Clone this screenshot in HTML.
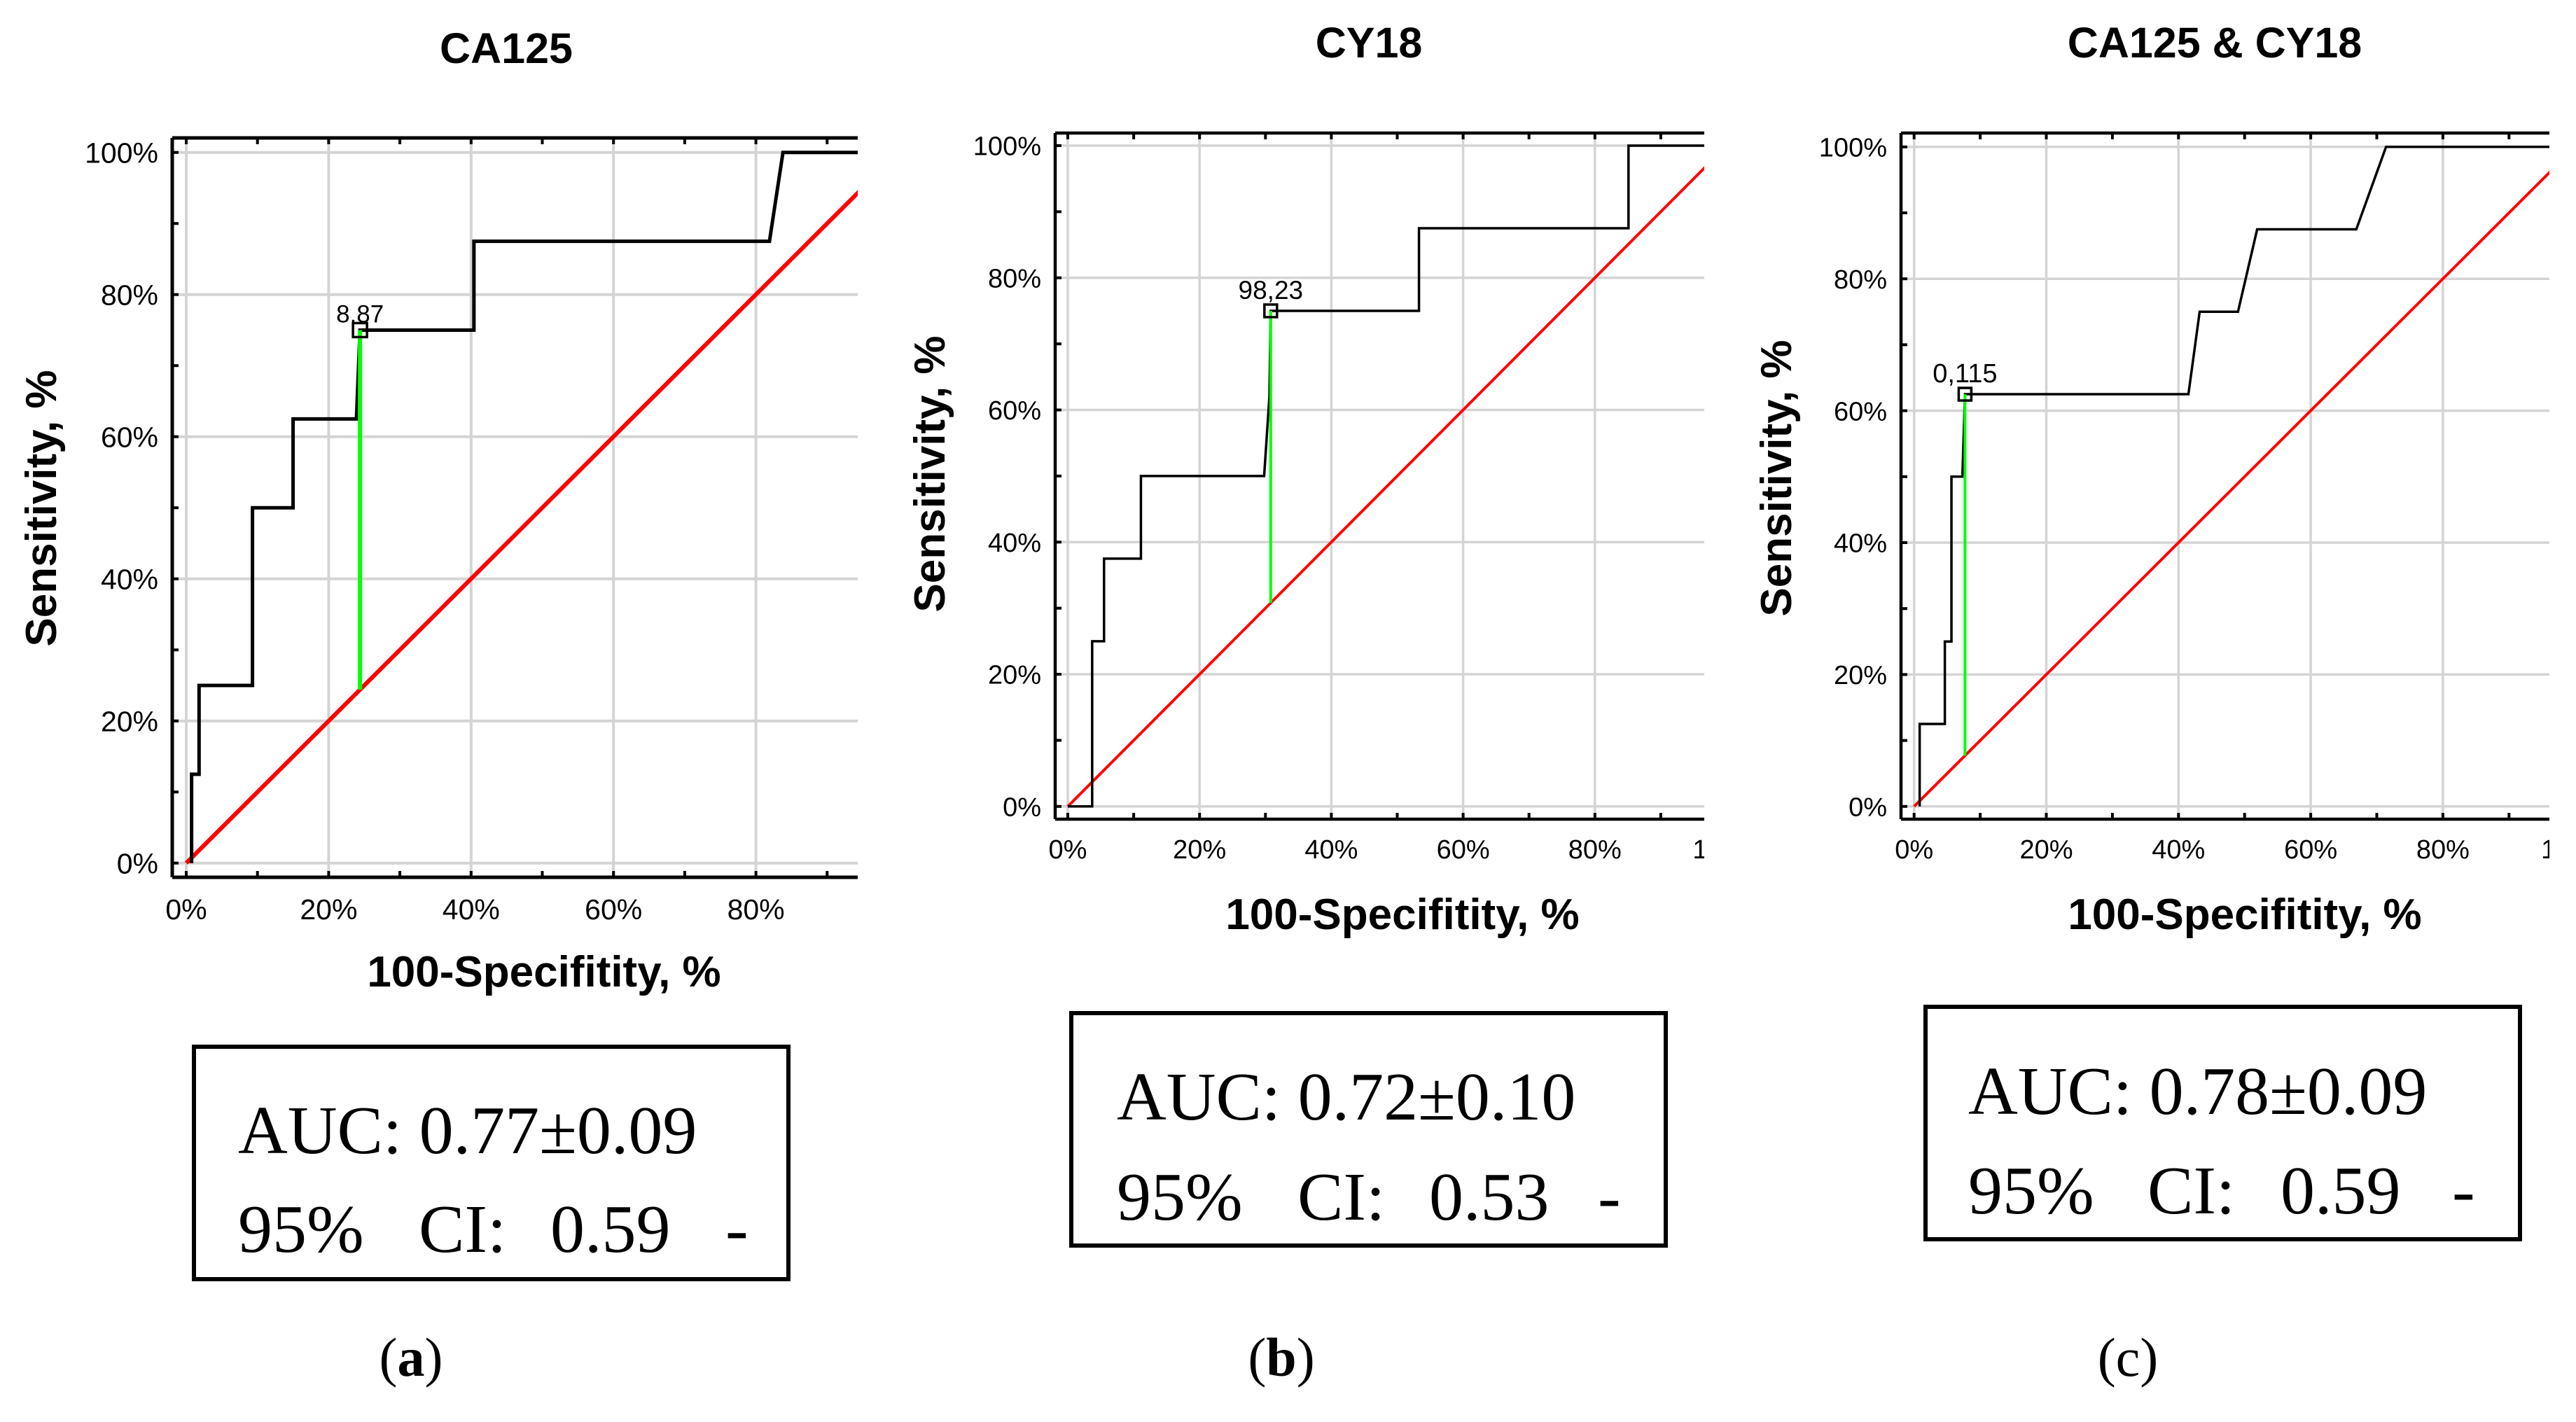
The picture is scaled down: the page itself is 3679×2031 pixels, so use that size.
<!DOCTYPE html>
<html><head><meta charset="utf-8"><style>
html,body{margin:0;padding:0;background:#fff;}
svg{display:block;}
</style></head><body>
<svg id="fig" width="3679" height="2031" viewBox="0 0 3679 2031" xmlns="http://www.w3.org/2000/svg" font-family="Liberation Sans, Arial, sans-serif">
  <g id="panel-a"></g>
  <g id="panel-b"></g>
  <g id="panel-c"></g>

  <g font-family="Liberation Serif, Times New Roman, serif" font-size="98" fill="#000">
    <rect x="277" y="1495" width="849" height="332" fill="none" stroke="#000" stroke-width="6"/>
    <text x="340" y="1647">AUC: 0.77±0.09</text>
    <text x="340" y="1788">95%</text>
    <text x="598" y="1788">CI:</text>
    <text x="786" y="1788">0.59</text>
    <text x="1036" y="1788">-</text>
  </g>
  <g font-family="Liberation Serif, Times New Roman, serif" font-size="98" fill="#000">
    <rect x="1530" y="1447" width="849" height="332" fill="none" stroke="#000" stroke-width="6"/>
    <text x="1595" y="1599">AUC: 0.72±0.10</text>
    <text x="1595" y="1742">95%</text>
    <text x="1853" y="1742">CI:</text>
    <text x="2041" y="1742">0.53</text>
    <text x="2282" y="1742">-</text>
  </g>
  <g font-family="Liberation Serif, Times New Roman, serif" font-size="98" fill="#000">
    <rect x="2750" y="1438" width="849" height="332" fill="none" stroke="#000" stroke-width="6"/>
    <text x="2811" y="1591">AUC: 0.78±0.09</text>
    <text x="2811" y="1733">95%</text>
    <text x="3067" y="1733">CI:</text>
    <text x="3257" y="1733">0.59</text>
    <text x="3502" y="1733">-</text>
  </g>
  <g font-family="Liberation Serif, Times New Roman, serif" font-size="78" fill="#000" text-anchor="middle">
    <text x="587" y="1965">(<tspan font-weight="bold">a</tspan>)</text>
    <text x="1830" y="1965">(<tspan font-weight="bold">b</tspan>)</text>
    <text x="3039" y="1965">(c)</text>
  </g>
</svg>
<script>
// ---- data (percent values) ----
const xTicks = [0, 20, 40, 60, 80, 100];
const yTicks = [0, 20, 40, 60, 80, 100];
const aFpr = [0.75, 0.75, 1.8, 1.8, 9.3, 9.3, 15.0, 15.0, 23.9, 24.4, 40.4, 40.4, 81.9, 83.8, 100];
const aTpr = [0, 12.5, 12.5, 25, 25, 50, 50, 62.5, 62.5, 75, 75, 87.5, 87.5, 100, 100];
const aCut = [24.4, 75];
const aCutLabel = "8,87";
const bFpr = [0, 3.7, 3.7, 5.5, 5.5, 11.1, 11.1, 29.8, 30.6, 30.8, 53.3, 53.3, 85.1, 85.1, 100];
const bTpr = [0, 0, 25, 25, 37.5, 37.5, 50, 50, 62, 75, 75, 87.5, 87.5, 100, 100];
const bCut = [30.8, 75];
const bCutLabel = "98,23";
const cFpr = [0.84, 0.84, 4.65, 4.65, 5.65, 5.65, 7.3, 7.7, 41.5, 43.2, 49.0, 51.9, 66.9, 71.4, 100];
const cTpr = [0, 12.5, 12.5, 25, 25, 50, 50, 62.5, 62.5, 75, 75, 87.5, 87.5, 100, 100];
const cCut = [7.7, 62.5];
const cCutLabel = "0,115";

const NS = "http://www.w3.org/2000/svg";
function mk(tag, attrs, parent){
  const e = document.createElementNS(NS, tag);
  for (const k in attrs) e.setAttribute(k, attrs[k]);
  parent.appendChild(e);
  return e;
}
function drawPanel(g, cfg, fpr, tpr, cut, cutLabel, id){
  const X = v => cfg.x0 + v*cfg.sx;
  const Y = v => cfg.y0 - v*cfg.sy;
  const clipId = "clip-"+id;
  const defs = mk("defs", {}, g);
  const cp = mk("clipPath", {id: clipId}, defs);
  mk("rect", {x: cfg.L, y: cfg.T, width: cfg.R-cfg.L, height: cfg.B-cfg.T}, cp);
  // grid
  const grid = mk("g", {"clip-path": "url(#"+clipId+")"}, g);
  
  
  xTicks.forEach(t => { mk("line", {x1: X(t), x2: X(t), y1: cfg.T, y2: cfg.B, stroke: "#d4d4d4", "stroke-width": cfg.gw}, grid); });
  yTicks.forEach(t => { mk("line", {x1: cfg.L, x2: cfg.R, y1: Y(t), y2: Y(t), stroke: "#d4d4d4", "stroke-width": cfg.gw}, grid); });
  // frame
  const fr = mk("g", {stroke: "#000", "stroke-width": cfg.fw}, g);
  
  
  mk("line", {x1: cfg.L, x2: cfg.R, y1: cfg.T, y2: cfg.T}, fr);
  mk("line", {x1: cfg.L, x2: cfg.R, y1: cfg.B, y2: cfg.B}, fr);
  mk("line", {x1: cfg.L, x2: cfg.L, y1: cfg.T, y2: cfg.B}, fr);
  for (let t=0; t<=100; t+=10){
    if (X(t) <= cfg.R){
      mk("line", {x1: X(t), x2: X(t), y1: cfg.B, y2: cfg.B-9, "stroke-width": 4}, fr);
      mk("line", {x1: X(t), x2: X(t), y1: cfg.T, y2: cfg.T+9, "stroke-width": 4}, fr);
    }
    mk("line", {x1: cfg.L, x2: cfg.L+9, y1: Y(t), y2: Y(t), "stroke-width": 4}, fr);
  }
  // tick labels
  yTicks.forEach(t => {
    const tx = mk("text", {x: cfg.ylx, y: Y(t)+cfg.tf*0.36, "font-size": cfg.tf, "text-anchor": "end"}, g);
    
    
    tx.textContent = t+"%";
  });
  const xl = mk("g", {"clip-path": "url(#xlclip-"+id+")"}, g);
  const cp2 = mk("clipPath", {id: "xlclip-"+id}, defs);
  mk("rect", {x: cfg.L-60, y: cfg.B, width: cfg.R-cfg.L+60, height: 120}, cp2);
  xTicks.forEach(t => {
    const tx = mk("text", {x: X(t), y: cfg.xly, "font-size": cfg.tf, "text-anchor": "middle"}, xl);
    
    
    tx.textContent = t+"%";
  });
  // titles
  const tt = mk("text", {x: cfg.tx, y: cfg.ty, "font-size": 61, "font-weight": "bold", "text-anchor": "middle"}, g);
  
  
  tt.textContent = cfg.title;
  const xt = mk("text", {x: cfg.xtx, y: cfg.xty, "font-size": 62, "font-weight": "bold", "text-anchor": "middle"}, g);
  
  
  xt.textContent = "100-Specifitity, %";
  const yt = mk("text", {x: 0, y: 0, "font-size": 62, "font-weight": "bold", "text-anchor": "middle", transform: "translate("+cfg.ytx+","+cfg.yty+") rotate(-90)"}, g);
  
  
  yt.textContent = "Sensitivity, %";
  // series
  const plot = mk("g", {"clip-path": "url(#"+clipId+")"}, g);
  const rl = mk("line", {x1: X(0), y1: Y(0), x2: X(100), y2: Y(100), stroke: "#f00", "stroke-width": cfg.rw}, plot);
  
  
  const pts = fpr.map((f,i) => X(f)+","+Y(tpr[i])).join(" ");
  const pl = mk("polyline", {points: pts, fill: "none", stroke: "#000", "stroke-width": cfg.lw, "stroke-linejoin": "miter"}, plot);
  
  
  const gl = mk("line", {x1: X(cut[0]), y1: Y(cut[1]), x2: X(cut[0]), y2: Y(cut[0]), stroke: "#00ff00", "stroke-width": cfg.rw}, plot);
  
  
  const s = cfg.ms;
  const sq = mk("rect", {x: X(cut[0])-s/2, y: Y(cut[1])-s/2, width: s, height: s, fill: "none", stroke: "#000", "stroke-width": 3.5}, g);
  
  
  const lb = mk("text", {x: X(cut[0]), y: Y(cut[1])-cfg.lo, "font-size": cfg.lf, "text-anchor": "middle"}, g);
  
  
  lb.textContent = cutLabel;
}
drawPanel(document.getElementById("panel-a"),
  {L:246,R:1225,T:197,B:1253,x0:266,sx:10.17,y0:1232.7,sy:10.15,gw:4,fw:5,lw:5,rw:6,ms:20,lf:35,lo:11,tf:41,
   ylx:226,xly:1313,title:"CA125",tx:723,ty:90,xtx:777,xty:1409,ytx:80,yty:726},
  aFpr,aTpr,aCut,aCutLabel,"a");
drawPanel(document.getElementById("panel-b"),
  {L:1507,R:2434,T:190,B:1170,x0:1525,sx:9.41,y0:1151.8,sy:9.438,gw:3.5,fw:4.5,lw:3.5,rw:4,ms:18,lf:37,lo:17,tf:38,
   ylx:1487,xly:1226,title:"CY18",tx:1955,ty:82,xtx:2003,xty:1327,ytx:1349,yty:677},
  bFpr,bTpr,bCut,bCutLabel,"b");
drawPanel(document.getElementById("panel-c"),
  {L:2715,R:3641,T:190,B:1170,x0:2733.7,sx:9.44,y0:1151.8,sy:9.42,gw:3.5,fw:4.5,lw:3.5,rw:4,ms:18,lf:38,lo:17,tf:38,
   ylx:2695,xly:1226,title:"CA125 & CY18",tx:3163,ty:82,xtx:3206,xty:1327,ytx:2558,yty:683},
  cFpr,cTpr,cCut,cCutLabel,"c");
</script>
</body></html>
